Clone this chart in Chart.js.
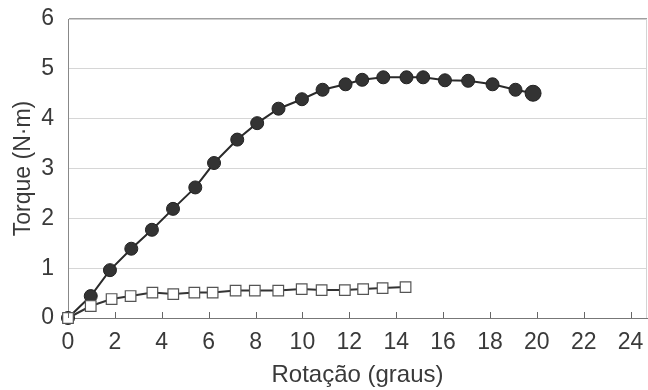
<!DOCTYPE html>
<html>
<head>
<meta charset="utf-8">
<script src="https://cdn.jsdelivr.net/npm/chart.js@4.4.1/dist/chart.umd.min.js"></script>
<style>
  html, body { margin: 0; padding: 0; background: #fff; }
  #wrap { width: 648px; height: 390px; position: relative; }
</style>
</head>
<body>
<div id="wrap"><canvas id="torqueChart"></canvas></div>
<script>
// dados
const rotacaoCheio = [0, 0.97, 1.79, 2.70, 3.58, 4.48, 5.43, 6.23, 7.22, 8.07, 8.98, 9.98, 10.86, 11.84, 12.55, 13.45, 14.44, 15.15, 16.08, 17.07, 18.11, 19.09, 19.84];
const torqueCheio  = [0, 0.44, 0.96, 1.39, 1.77, 2.19, 2.62, 3.11, 3.58, 3.91, 4.20, 4.39, 4.58, 4.69, 4.78, 4.83, 4.83, 4.83, 4.77, 4.76, 4.69, 4.58, 4.51];

const rotacaoVazio = [0, 0.97, 1.86, 2.67, 3.60, 4.49, 5.39, 6.17, 7.15, 7.97, 8.97, 9.97, 10.82, 11.81, 12.59, 13.42, 14.40];
const torqueVazio  = [0, 0.24, 0.38, 0.44, 0.51, 0.48, 0.51, 0.51, 0.55, 0.55, 0.55, 0.58, 0.56, 0.56, 0.58, 0.60, 0.62];

const xTicks = [0, 2, 4, 6, 8, 10, 12, 14, 16, 18, 20, 22, 24];
const yTicks = [0, 1, 2, 3, 4, 5, 6];

const toPoints = (xs, ys) => xs.map((x, i) => ({ x: x, y: ys[i] }));

const FONT = 'Liberation Sans, Arial, sans-serif';

// ticks do eixo x para dentro + borda direita
const framePlugin = {
    id: 'frame',
    afterDatasetsDraw(chart) {
        const { ctx, chartArea, scales } = chart;
        ctx.save();
        ctx.strokeStyle = '#666';
        ctx.lineWidth = 1;
        scales.x.ticks.forEach(t => {
            const px = Math.round(scales.x.getPixelForValue(t.value)) + 0.5;
            ctx.beginPath();
            ctx.moveTo(px, chartArea.bottom);
            ctx.lineTo(px, chartArea.bottom - 6);
            ctx.stroke();
        });
        ctx.strokeStyle = '#d4d4d4';
        ctx.beginPath();
        ctx.moveTo(chartArea.right - 0.5, chartArea.top);
        ctx.lineTo(chartArea.right - 0.5, chartArea.bottom);
        ctx.stroke();
        ctx.restore();
    }
};

const ctx = document.getElementById('torqueChart').getContext('2d');
new Chart(ctx, {
    type: 'scatter',
    data: {
        datasets: [
            {
                label: 'vazio',
                data: toPoints(rotacaoVazio, torqueVazio),
                showLine: true,
                borderColor: '#333',
                borderWidth: 2,
                pointStyle: 'rect',
                pointRadius: 7.5,
                pointBackgroundColor: '#fff',
                pointBorderColor: '#555',
                pointBorderWidth: 1.2,
                clip: false
            },
            {
                label: 'cheio',
                data: toPoints(rotacaoCheio, torqueCheio),
                showLine: true,
                borderColor: '#2a2a2a',
                borderWidth: 2,
                pointStyle: 'circle',
                pointRadius: c => (c.dataIndex === rotacaoCheio.length - 1 ? 8 : 6.5),
                pointBackgroundColor: '#333',
                pointBorderColor: '#222',
                pointBorderWidth: 1,
                clip: false
            }
        ]
    },
    options: {
        responsive: true,
        maintainAspectRatio: false,
        animation: false,
        layout: { autoPadding: false, padding: { top: 19, right: 1, left: 0, bottom: 0 } },
        plugins: {
            legend: { display: false },
            tooltip: { enabled: false }
        },
        scales: {
            x: {
                type: 'linear',
                min: 0,
                max: 24.7,
                afterBuildTicks: s => { s.ticks = xTicks.map(v => ({ value: v })); },
                afterFit: s => { s.height = 72; s.paddingLeft = 0; s.paddingRight = 0; },
                grid: { drawOnChartArea: false, drawTicks: false },
                border: { color: '#777', width: 1 },
                ticks: {
                    padding: 11,
                    color: '#3a3a3a',
                    font: { family: FONT, size: 23 },
                    maxRotation: 0
                },
                title: {
                    display: true,
                    text: 'Rotação (graus)',
                    color: '#3a3a3a',
                    padding: { top: 0, bottom: 0 },
                    font: { family: FONT, size: 24 }
                }
            },
            y: {
                min: 0,
                max: 6,
                afterBuildTicks: s => { s.ticks = yTicks.map(v => ({ value: v })); },
                afterFit: s => { s.width = 68; s.paddingTop = 0; s.paddingBottom = 0; },
                grid: {
                    drawTicks: false,
                    color: c => (c.tick.value === 6 ? '#a0a0a0' : (c.tick.value === 0 ? 'rgba(0,0,0,0)' : '#d6d6d6')),
                    lineWidth: c => (c.tick.value === 6 ? 1.5 : 1)
                },
                border: { color: '#888', width: 1 },
                ticks: {
                    padding: 14,
                    color: '#3a3a3a',
                    font: { family: FONT, size: 23 }
                },
                title: {
                    display: true,
                    text: 'Torque (N·m)',
                    color: '#3a3a3a',
                    padding: { top: 10, bottom: 0 },
                    font: { family: FONT, size: 23 }
                }
            }
        }
    },
    plugins: [framePlugin]
});
</script>
</body>
</html>
